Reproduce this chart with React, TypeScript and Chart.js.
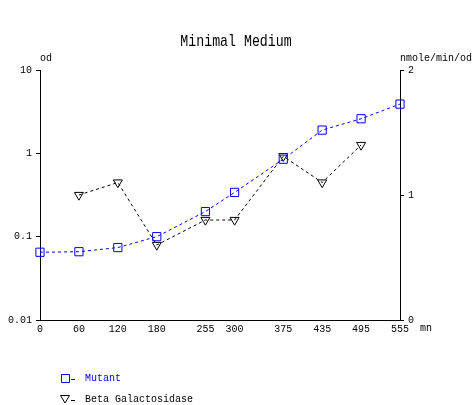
import React, { useEffect, useRef } from 'react';
import { Chart, registerables } from 'chart.js';

Chart.register(...registerables);

const TITLE = 'Minimal Medium';
const timeMinutes = [0, 60, 120, 180, 255, 300, 375, 435, 495, 555];
const mutantOD = [0.065, 0.066, 0.074, 0.1, 0.2, 0.34, 0.85, 1.9, 2.6, 3.9];
const betaGal: (number | null)[] = [null, 1.0, 1.1, 0.6, 0.8, 0.8, 1.31, 1.1, 1.4, null];
const leftTicks = [0.01, 0.1, 1, 10];
const leftTickLabels = ['0.01', '0.1', '1', '10'];
const rightTicks = [0, 1, 2];
const xTicks = timeMinutes;
const seriesNames = ['Mutant', 'Beta Galactosidase'];
const leftUnit = 'od';
const rightUnit = 'nmole/min/od';
const xUnit = 'mn';

const MONO = '"Liberation Mono", "DejaVu Sans Mono", monospace';
const BLUE = '#0000ff';
const BLACK = '#000000';

const extrasPlugin = {
  id: 'extras',
  afterDraw(chart: any) {
    const ctx = chart.ctx as CanvasRenderingContext2D;
    const area = chart.chartArea;
    ctx.save();
    // title
    ctx.save();
    ctx.fillStyle = BLACK;
    ctx.font = `17px ${MONO}`;
    ctx.textAlign = 'center';
    ctx.textBaseline = 'middle';
    ctx.translate((area.left + area.right) / 2 + 16, 41);
    ctx.scale(0.78, 1);
    ctx.fillText(TITLE, 0, 0);
    ctx.restore();

    ctx.font = `10px ${MONO}`;
    ctx.fillStyle = BLACK;
    ctx.textBaseline = 'middle';
    ctx.textAlign = 'left';
    ctx.fillText(leftUnit, area.left, 58);
    ctx.fillText(rightUnit, area.right, 58);
    ctx.fillText(xUnit, area.right + 20, area.bottom + 8);

    // legend
    const ds = chart.data.datasets;
    const rows = [378, 399];
    ds.forEach((d: any, i: number) => {
      const y = rows[i];
      const cx = 65;
      ctx.strokeStyle = d.borderColor;
      ctx.lineWidth = 1;
      ctx.setLineDash([]);
      ctx.beginPath();
      if (d.pointStyle === 'rect') {
        ctx.rect(cx - 4 + 0.5, y - 4 + 0.5, 8, 8);
      } else {
        ctx.moveTo(cx - 4.5, y - 3.5);
        ctx.lineTo(cx + 4.5, y - 3.5);
        ctx.lineTo(cx, y + 4);
        ctx.closePath();
      }
      ctx.stroke();
      ctx.beginPath();
      ctx.moveTo(71, y + 1.5);
      ctx.lineTo(75, y + 1.5);
      ctx.stroke();
      ctx.fillStyle = d.borderColor;
      ctx.fillText(d.label, 85, y);
    });
    ctx.restore();
  },
};

export default function App() {
  const ref = useRef<HTMLCanvasElement | null>(null);
  useEffect(() => {
    if (!ref.current) return;
    const chart = new Chart(ref.current, {
      type: 'line',
      data: {
        datasets: [
          {
            label: seriesNames[0],
            data: timeMinutes.map((t, i) => ({ x: t, y: mutantOD[i] })),
            yAxisID: 'yL',
            borderColor: BLUE,
            backgroundColor: 'transparent',
            borderWidth: 1,
            borderDash: [3, 3],
            pointStyle: 'rect',
            pointRadius: 5.8,
            pointBorderColor: BLUE,
            pointBackgroundColor: 'transparent',
            pointBorderWidth: 1,
            tension: 0,
            clip: false,
          },
          {
            label: seriesNames[1],
            data: timeMinutes.map((t, i) => ({ x: t, y: betaGal[i] })),
            yAxisID: 'yR',
            borderColor: BLACK,
            backgroundColor: 'transparent',
            borderWidth: 1,
            borderDash: [3, 3],
            pointStyle: 'triangle',
            rotation: 180,
            pointRotation: 180,
            pointRadius: 5.2,
            pointBorderColor: BLACK,
            pointBackgroundColor: 'transparent',
            pointBorderWidth: 1,
            tension: 0,
            clip: false,
          },
        ],
      } as any,
      options: {
        animation: false,
        responsive: false,
        devicePixelRatio: 1,
        layout: { padding: { top: 70, left: 0, right: 0, bottom: 0 } },
        plugins: {
          legend: { display: false },
          title: { display: false },
          tooltip: { enabled: false },
        },
        scales: {
          x: {
            type: 'linear',
            min: 0,
            max: 555,
            afterBuildTicks: (s: any) => {
              s.ticks = xTicks.map((v) => ({ value: v }));
            },
            afterFit: (s: any) => {
              s.height = 85;
            },
            ticks: {
              autoSkip: false,
              maxRotation: 0,
              padding: 3,
              color: BLACK,
              font: { family: MONO, size: 10 },
              callback: (v: any) => String(v),
            },
            grid: { display: true, drawOnChartArea: false, drawTicks: false, color: BLACK },
            border: { display: true, color: BLACK, width: 1 },
          },
          yL: {
            type: 'logarithmic',
            position: 'left',
            min: 0.01,
            max: 10,
            afterBuildTicks: (s: any) => {
              s.ticks = leftTicks.map((v) => ({ value: v }));
            },
            afterFit: (s: any) => {
              s.width = 40;
            },
            ticks: {
              autoSkip: false,
              padding: 4,
              color: BLACK,
              font: { family: MONO, size: 10 },
              callback: (v: any) => {
                const i = leftTicks.indexOf(Number(v));
                return i >= 0 ? leftTickLabels[i] : '';
              },
            },
            grid: { display: true, drawOnChartArea: false, drawTicks: true, tickLength: 4, color: BLACK },
            border: { display: true, color: BLACK, width: 1 },
          },
          yR: {
            type: 'linear',
            position: 'right',
            min: 0,
            max: 2,
            afterBuildTicks: (s: any) => {
              s.ticks = rightTicks.map((v) => ({ value: v }));
            },
            afterFit: (s: any) => {
              s.width = 72;
            },
            ticks: {
              autoSkip: false,
              padding: 4,
              color: BLACK,
              font: { family: MONO, size: 10 },
              callback: (v: any) => String(v),
            },
            grid: { display: true, drawOnChartArea: false, drawTicks: true, tickLength: 4, color: BLACK },
            border: { display: true, color: BLACK, width: 1 },
          },
        },
      } as any,
      plugins: [extrasPlugin],
    });
    return () => chart.destroy();
  }, []);
  return (
    <div style={{ position: 'fixed', left: 0, top: 0, width: 472, height: 405, background: '#fff' }}>
      <canvas ref={ref} width={472} height={405} />
    </div>
  );
}
